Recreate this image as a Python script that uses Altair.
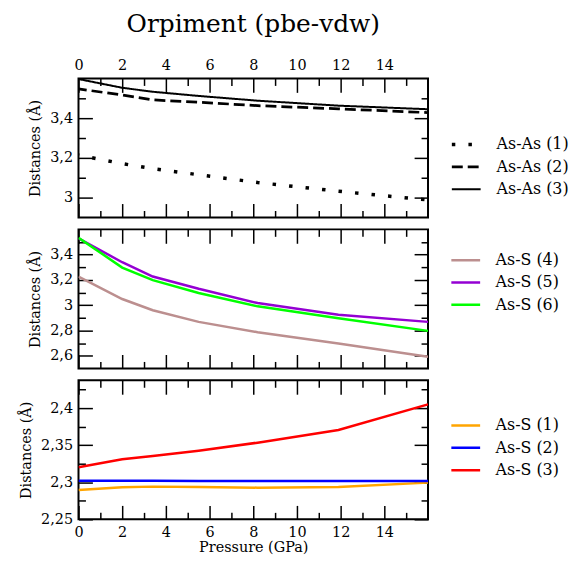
import altair as alt
import pandas as pd

# ---------------- data ----------------
pressure = [0, 2, 3.4, 5.5, 8.2, 11.9, 16]

names_top = ["As-As (1)", "As-As (2)", "As-As (3)"]
asas_1 = [3.214, 3.171, 3.146, 3.115, 3.076, 3.032, 2.988]
asas_2 = [3.547, 3.517, 3.492, 3.480, 3.463, 3.447, 3.428]
asas_3 = [3.597, 3.553, 3.533, 3.512, 3.488, 3.463, 3.445]

names_mid = ["As-S (4)", "As-S (5)", "As-S (6)"]
ass_4 = [3.227, 3.049, 2.960, 2.868, 2.786, 2.697, 2.592]
ass_5 = [3.529, 3.340, 3.227, 3.130, 3.017, 2.925, 2.868]
ass_6 = [3.534, 3.298, 3.198, 3.096, 2.991, 2.897, 2.797]

names_bot = ["As-S (1)", "As-S (2)", "As-S (3)"]
ass_1 = [2.2896, 2.2932, 2.2941, 2.2936, 2.2927, 2.2936, 2.2995]
ass_2 = [2.3020, 2.3020, 2.3020, 2.3018, 2.3018, 2.3017, 2.3017]
ass_3 = [2.3201, 2.3310, 2.3354, 2.3426, 2.3534, 2.3705, 2.4050]

x_major = [0, 2, 4, 6, 8, 10, 12, 14]
x_minor = [1, 3, 5, 7, 9, 11, 13, 15]

colors_mid = ["#bc8f8f", "#9400d3", "#00ff00"]
colors_bot = ["#ffa500", "#0000ff", "#ff0000"]

FONT = "DejaVu Serif"
W, H = 352, 140
COMMA = "replace(format(datum.value, '~g'), '.', ',')"


def long_df(names, series):
    rows = []
    for n, vals in zip(names, series):
        for p, v in zip(pressure, vals):
            rows.append({"P": p, "D": v, "S": n})
    return pd.DataFrame(rows)


def axis(orient, values, size, labels=False, title=None, title_pad=None):
    kw = dict(orient=orient, values=values, tickSize=size, offset=-size,
              domain=False, grid=False, ticks=True, labels=labels,
              tickColor="black", tickWidth=1.5, title=title)
    if labels:
        kw.update(labelPadding=6, labelFlush=False, labelOverlap=False,
                  labelExpr=COMMA, labelFont=FONT, labelFontSize=14.5,
                  labelColor="black")
    if title is not None:
        kw.update(titleFont=FONT, titleFontSize=14.5, titleFontWeight="normal",
                  titleColor="black")
        if title_pad is not None:
            kw["titlePadding"] = title_pad
    return alt.Axis(**kw)


def panel(df, line_enc_extra, ydom, ymaj, ymin, top_labels, bottom_labels,
          mark_kwargs, title=None):
    xs = alt.Scale(domain=[0, 16], nice=False, zero=False)
    ys = alt.Scale(domain=ydom, nice=False, zero=False)
    lines = alt.Chart(df).mark_line(clip=True, **mark_kwargs).encode(
        x=alt.X("P:Q", scale=xs, axis=axis("top", x_major, 14, labels=top_labels)),
        y=alt.Y("D:Q", scale=ys, axis=axis("left", ymaj, 14, labels=True,
                                             title="Distances (Å)", title_pad=7)),
        detail="S:N",
        **line_enc_extra,
    )
    bot_axis = axis("bottom", x_major, 14, labels=bottom_labels,
                    title="Pressure (GPa)" if bottom_labels else None, title_pad=2)
    l2 = alt.Chart(df).mark_point(opacity=0, size=1, clip=True).encode(
        x=alt.X("P:Q", scale=xs, axis=bot_axis),
        y=alt.Y("D:Q", scale=ys, axis=axis("right", ymaj, 14)),
    )
    l3 = alt.Chart(df).mark_point(opacity=0, size=1, clip=True).encode(
        x=alt.X("P:Q", scale=xs, axis=axis("top", x_minor, 7)),
        y=alt.Y("D:Q", scale=ys, axis=axis("left", ymin, 7)),
    )
    l4 = alt.Chart(df).mark_point(opacity=0, size=1, clip=True).encode(
        x=alt.X("P:Q", scale=xs, axis=axis("bottom", x_minor, 7)),
        y=alt.Y("D:Q", scale=ys, axis=axis("right", ymin, 7)),
    )
    ch = alt.layer(lines, l2, l3, l4).resolve_axis(x="independent", y="independent")
    props = dict(width=W, height=H)
    if title is not None:
        props["title"] = title
    return ch.properties(**props)


def legend(ly, extra=None):
    kw = dict(orient="none", legendX=374, legendY=ly, title=None,
              symbolType="stroke", symbolSize=841, labelFont=FONT,
              labelFontSize=16, labelColor="black", labelOffset=14,
              clipHeight=19, rowPadding=3.5, padding=0)
    if extra:
        kw.update(extra)
    return alt.Legend(**kw)


df_top = long_df(names_top, [asas_1, asas_2, asas_3])
df_mid = long_df(names_mid, [ass_4, ass_5, ass_6])
df_bot = long_df(names_bot, [ass_1, ass_2, ass_3])

leg_top = legend(57, {"symbolStrokeColor": "black"})
top = panel(
    df_top,
    dict(
        strokeDash=alt.StrokeDash("S:N", scale=alt.Scale(domain=names_top, range=[[3.5, 13.2], [11, 5], [1, 0]]),
                                  legend=leg_top),
        strokeWidth=alt.StrokeWidth("S:N", scale=alt.Scale(domain=names_top, range=[3.5, 2, 2]),
                                    legend=leg_top),
    ),
    [2.9, 3.6], [3.0, 3.2, 3.4], [3.1, 3.3, 3.5], True, False,
    dict(color="black", strokeDashOffset=2.7),
    title=alt.Title("Orpiment (pbe-vdw)", anchor="middle", frame="group",
                    font=FONT, fontSize=25, fontWeight="normal", color="black",
                    offset=21),
)

mid = panel(
    df_mid,
    dict(color=alt.Color("S:N", scale=alt.Scale(domain=names_mid, range=colors_mid),
                         legend=legend(21.5, {"symbolStrokeWidth": 2.5}))),
    [2.5, 3.6], [2.6, 2.8, 3.0, 3.2, 3.4], [2.7, 2.9, 3.1, 3.3, 3.5], False, False,
    dict(strokeWidth=2.5),
)

bot = panel(
    df_bot,
    dict(color=alt.Color("S:N", scale=alt.Scale(domain=names_bot, range=colors_bot),
                         legend=legend(36, {"symbolStrokeWidth": 2.5}))),
    [2.25, 2.4375], [2.25, 2.3, 2.35, 2.4], [2.275, 2.325, 2.375, 2.425], False, True,
    dict(strokeWidth=2.5),
)

chart = alt.vconcat(top, mid, bot, spacing=8).resolve_scale(
    x="independent", y="independent", color="independent",
    strokeDash="independent", strokeWidth="independent",
).configure(
    font=FONT,
    padding={"left": 9, "top": 1, "right": 0, "bottom": 0},
    style={"guide-label": {"font": FONT}, "guide-title": {"font": FONT},
           "group-title": {"font": FONT}},
).configure_view(
    stroke="black", strokeWidth=2,
).configure_axis(
    labelFont=FONT, titleFont=FONT,
).configure_legend(
    labelFont=FONT, titleFont=FONT,
)

chart.save("out.html", embed_options={"renderer": "svg", "actions": False})
